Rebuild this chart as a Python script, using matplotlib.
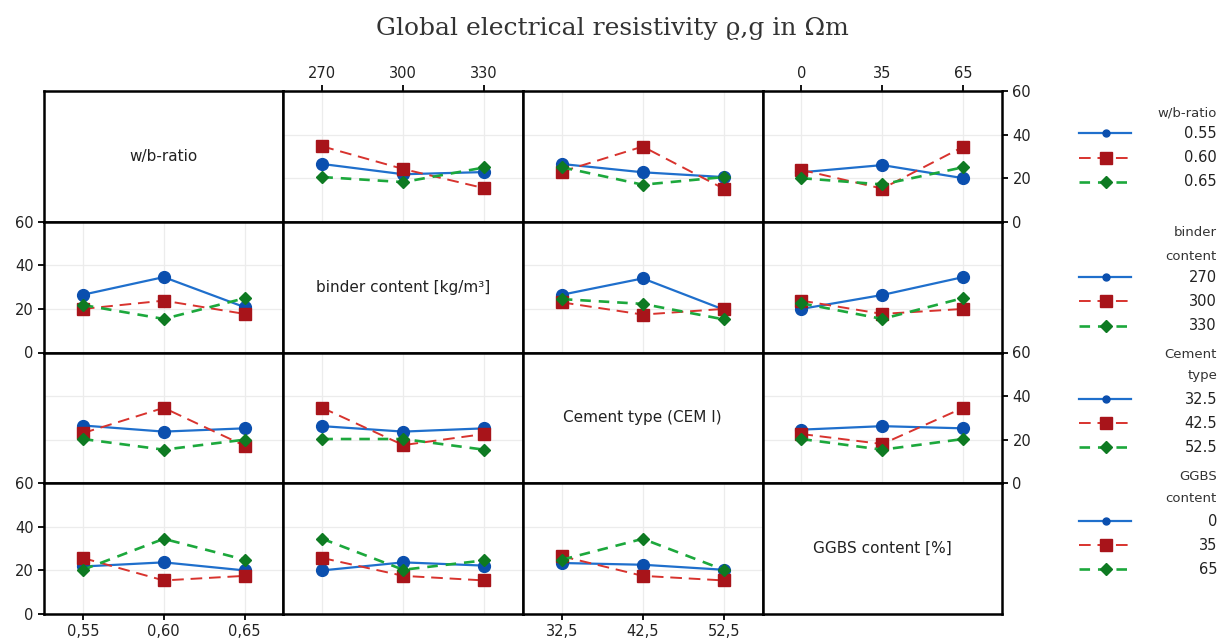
import matplotlib
matplotlib.use("Agg")
import matplotlib.pyplot as plt

# Factor names, tick labels and legend labels
factor_titles = ["w/b-ratio", "binder content [kg/m³]", "Cement type (CEM I)", "GGBS content [%]"]
wb_ticks = ["0,55", "0,60", "0,65"]
binder_ticks = ["270", "300", "330"]
cement_ticks = ["32,5", "42,5", "52,5"]
ggbs_ticks = ["0", "35", "65"]

legend_headers = [["w/b-ratio"], ["binder", "content"], ["Cement", "type"], ["GGBS", "content"]]
wb_levels = ["0.55", "0.60", "0.65"]
binder_levels = ["270", "300", "330"]
cement_levels = ["32.5", "42.5", "52.5"]
ggbs_levels = ["0", "35", "65"]

# Mean resistivity (Ωm): rows = levels of the trace factor, columns = levels of the x factor
wb_vs_binder = [[26.5, 21.8, 22.8], [34.6, 24.2, 15.4], [20.5, 18.2, 24.9]]
wb_vs_cement = [[26.5, 22.7, 20.5], [23.0, 34.5, 15.2], [25.0, 17.0, 20.5]]
wb_vs_ggbs = [[22.7, 26.0, 20.0], [23.8, 15.2, 34.4], [20.0, 17.1, 25.0]]
binder_vs_wb = [[26.5, 34.6, 20.8], [20.0, 23.8, 17.7], [21.8, 15.4, 24.9]]
binder_vs_cement = [[26.5, 34.0, 19.7], [23.0, 17.4, 20.0], [24.5, 22.3, 15.2]]
binder_vs_ggbs = [[20.0, 26.4, 34.6], [23.8, 17.7, 20.0], [22.6, 15.4, 25.0]]
cement_vs_wb = [[26.5, 23.7, 25.2], [23.0, 34.6, 17.2], [20.3, 15.4, 20.0]]
cement_vs_binder = [[26.2, 23.7, 25.2], [34.6, 17.5, 22.6], [20.3, 20.3, 15.4]]
cement_vs_ggbs = [[24.6, 26.2, 25.2], [22.6, 18.0, 34.6], [20.3, 15.4, 20.3]]
ggbs_vs_wb = [[21.8, 23.7, 20.0], [25.7, 15.4, 17.5], [20.3, 34.5, 24.9]]
ggbs_vs_binder = [[20.0, 23.7, 22.2], [25.7, 17.5, 15.4], [34.5, 20.3, 24.6]]
ggbs_vs_cement = [[23.4, 22.6, 20.3], [26.5, 17.5, 15.4], [24.9, 34.5, 20.3]]

y_ticks = [0, 20, 40, 60]

x_tick_sets = [wb_ticks, binder_ticks, cement_ticks, ggbs_ticks]
level_sets = [wb_levels, binder_levels, cement_levels, ggbs_levels]
panels = {
    (0, 1): wb_vs_binder, (0, 2): wb_vs_cement, (0, 3): wb_vs_ggbs,
    (1, 0): binder_vs_wb, (1, 2): binder_vs_cement, (1, 3): binder_vs_ggbs,
    (2, 0): cement_vs_wb, (2, 1): cement_vs_binder, (2, 3): cement_vs_ggbs,
    (3, 0): ggbs_vs_wb, (3, 1): ggbs_vs_binder, (3, 2): ggbs_vs_cement,
}

# Trace styles: (line colour, marker colour, marker, marker size, line width, dashes)
styles = [
    ("#1f6fcc", "#0b4fae", "o", 8.5, 1.6, None),
    ("#d8332e", "#a8141a", "s", 8.0, 1.4, (6, 3.5)),
    ("#1ca83c", "#0e7a22", "D", 6.5, 1.9, (4, 3)),
]

W, H = 1226, 642
fig = plt.figure(figsize=(W / 100, H / 100), dpi=100)
sans = ["DejaVu Sans"]
tick_font = dict(family=sans, size=10.5, color="#222222")

left_px, right_px, top_px, bottom_px = 44, 1002, 91, 614
axes = fig.subplots(4, 4, gridspec_kw=dict(left=left_px / W, right=right_px / W,
                                            top=1 - top_px / H, bottom=1 - bottom_px / H,
                                            wspace=0, hspace=0))

positions = [0, 1, 2]
for r in range(4):
    for c in range(4):
        ax = axes[r, c]
        ax.set_xlim(-0.48, 2.48)
        ax.set_ylim(0, 60)
        ax.set_xticks(positions)
        ax.set_yticks(y_ticks)
        for s in ax.spines.values():
            s.set_linewidth(1.8)
            s.set_color("black")
        ax.tick_params(which="both", bottom=False, top=False, left=False, right=False,
                       labelbottom=False, labeltop=False, labelleft=False, labelright=False,
                       direction="out", length=4.5, width=1.3, pad=3)
        if r == c:
            ax.text(0.5, 0.5, factor_titles[r], transform=ax.transAxes, ha="center", va="center",
                    fontsize=11, family=sans, color="#222222")
            continue
        ax.grid(True, color="#ececec", linewidth=0.9)
        ax.set_axisbelow(True)
        data = panels[(r, c)]
        for k, vals in enumerate(data):
            lc, mc, mk, ms, lw, dash = styles[k]
            ln, = ax.plot(positions, vals, color=lc, lw=lw, marker=mk, ms=ms,
                          markerfacecolor=mc, markeredgecolor=mc, zorder=3 + k)
            if dash is not None:
                ln.set_dashes(dash)

# Outer tick labels alternate between sides, Minitab matrix style
for c in range(4):
    if c in (0, 2):
        ax = axes[3, c]
        ax.tick_params(bottom=True, labelbottom=True)
    else:
        ax = axes[0, c]
        ax.tick_params(top=True, labeltop=True)
    ax.set_xticklabels(x_tick_sets[c], **tick_font)
for r in range(4):
    if r in (1, 3):
        ax = axes[r, 0]
        ax.tick_params(left=True, labelleft=True)
    else:
        ax = axes[r, 3]
        ax.tick_params(right=True, labelright=True)
    ax.set_yticklabels([str(v) for v in y_ticks], **tick_font)

fig.text(612 / W, 1 - 28 / H, "Global electrical resistivity ϱ,g in Ωm",
         ha="center", va="center", fontsize=18, family=["DejaVu Serif"],
         color="#333333")

# Legend column drawn in pixel coordinates
lax = fig.add_axes([0, 0, 1, 1])
lax.set_xlim(0, W)
lax.set_ylim(H, 0)
lax.axis("off")
lax.set_zorder(5)

header_rows = [[113], [232, 257], [354, 375], [477, 499]]
entry_rows = [[133, 158, 182], [277, 301, 326], [399, 423, 447], [521, 545, 569]]
legend_ms = [5, 8, 6]
txt_right = 1217
for g in range(4):
    for hy, htxt in zip(header_rows[g], legend_headers[g]):
        lax.text(txt_right, hy, htxt, ha="right", va="center", fontsize=9.5,
                 family=sans, color="#333333")
    for k, ey in enumerate(entry_rows[g]):
        lc, mc, mk, ms, lw, dash = styles[k]
        ln, = lax.plot([1079, 1131], [ey, ey], color=lc, lw=lw)
        if dash is not None:
            ln.set_dashes(dash)
        lax.plot([1106], [ey], marker=mk, ms=legend_ms[k], color=mc, linestyle="none")
        lax.text(txt_right, ey, level_sets[g][k], ha="right", va="center", fontsize=10.5,
                 family=sans, color="#222222")

fig.savefig("out.png", dpi=100, facecolor="white")
